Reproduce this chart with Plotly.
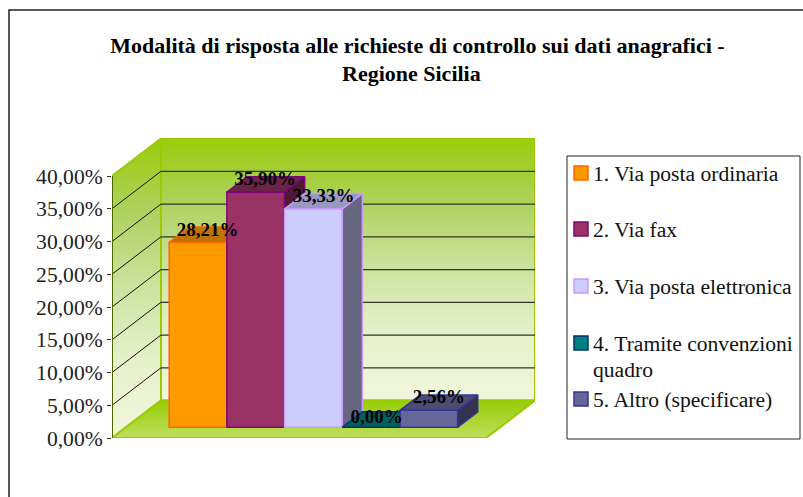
import plotly.graph_objects as go

# ---------- data ----------
categories = ["1. Via posta ordinaria", "2. Via fax", "3. Via posta elettronica",
              "4. Tramite convenzioni<br>quadro", "5. Altro (specificare)"]
values = [28.21, 35.90, 33.33, 0.00, 2.56]
value_labels = ["28,21%", "35,90%", "33,33%", "0,00%", "2,56%"]
tick_values = [0, 5, 10, 15, 20, 25, 30, 35, 40]
tick_labels = ["0,00%", "5,00%", "10,00%", "15,00%", "20,00%", "25,00%", "30,00%", "35,00%", "40,00%"]

# ---------- styles ----------
fill_colors = ["#FF9900", "#993366", "#CCCCFF", "#008080", "#666699"]
edge_colors = ["#FF6600", "#800080", "#CC99FF", "#003366", "#333399"]
top_colors = ["#C07300", "#6B2348", "#9999BF", "#006060", "#4D4D73"]
side_colors = ["#804D00", "#4D1A33", "#666680", "#004040", "#333350"]
label_nudge_x = [0.02, 0.02, 0.03, -0.05, 0.03]     # label offsets, in bar widths
label_nudge_y = [0.55, 0.55, 0.55, 0.25, 0.75]      # label offsets, in axis units
FONT = "Liberation Serif"

# ---------- projection of the fake 3D box (axis units) ----------
DEPTH_X, DEPTH_Y = 49 / 57.7, 5.72      # back wall offset from the front plane
FLOOR_W = 374 / 57.7                    # floor width, in bar widths
GAP = 43 / 57.7                         # space before the first bar
D0, D1 = 0.29, 0.70                     # bar depth range as a fraction of box depth
TOP = 40
W, H = 803, 497
L, R, T, B = 112, 268, 138, 59


def px(x):
    return (x - L) / (W - L - R)


def py(y):
    return (H - B - y) / (H - T - B)


fig = go.Figure()


def poly(xs, ys, xa="x", ya="y", **kw):
    fig.add_trace(go.Scatter(x=xs + xs[:1], y=ys + ys[:1], mode="lines", fill="toself",
                             xaxis=xa, yaxis=ya, showlegend=False, hoverinfo="skip", **kw))


wall_scale = [[0, "#F0F6DC"], [0.25, "#E6F1CC"], [0.5, "#CDE3A0"], [0.75, "#AED260"], [1, "#9ACC0A"]]
border = dict(color="#99CC00", width=2)

# left wall
poly([0, DEPTH_X, DEPTH_X, 0], [0, DEPTH_Y, TOP + DEPTH_Y, TOP], line=border,
     fillgradient=dict(type="vertical", colorscale=wall_scale, start=0, stop=TOP + DEPTH_Y))
# back wall
poly([DEPTH_X, DEPTH_X + FLOOR_W, DEPTH_X + FLOOR_W, DEPTH_X],
     [DEPTH_Y, DEPTH_Y, TOP + DEPTH_Y, TOP + DEPTH_Y], line=border,
     fillgradient=dict(type="vertical", colorscale=wall_scale, start=DEPTH_Y, stop=TOP + DEPTH_Y))
# floor
poly([0, FLOOR_W, FLOOR_W + DEPTH_X, DEPTH_X], [0, 0, DEPTH_Y, DEPTH_Y], line=border,
     fillgradient=dict(type="vertical", colorscale=[[0, "#BEDF5C"], [1, "#98CC08"]],
                       start=0, stop=DEPTH_Y))

# gridlines
gx, gy = [], []
for v in tick_values[1:-1]:
    gx += [DEPTH_X, DEPTH_X + FLOOR_W, None]
    gy += [v + DEPTH_Y, v + DEPTH_Y, None]
fig.add_trace(go.Scatter(x=gx, y=gy, mode="lines", line=dict(color="#333322", width=1.2),
                         showlegend=False, hoverinfo="skip"))
dx, dy = [], []
for v in tick_values[1:-1]:
    dx += [0, DEPTH_X, None]
    dy += [v, v + DEPTH_Y, None]
fig.add_trace(go.Scatter(x=dx, y=dy, mode="lines", line=dict(color="#111111", width=1),
                         showlegend=False, hoverinfo="skip"))
# left axis line
fig.add_trace(go.Scatter(x=[0, 0], y=[0, TOP], mode="lines", line=dict(color="#4F6600", width=2),
                         showlegend=False, hoverinfo="skip"))

# bars: one overlay subplot each so that later bars hide earlier side faces
x_range = [0, FLOOR_W + DEPTH_X]
y_range = [0, (H - T - B) / 6.55]
axes = {}
for i, val in enumerate(values):
    n = i + 2
    xa, ya = f"x{n}", f"y{n}"
    axes[f"xaxis{n}"] = dict(overlaying="x", range=x_range, visible=False, fixedrange=True)
    axes[f"yaxis{n}"] = dict(overlaying="y", range=y_range, visible=False, fixedrange=True)
    x0 = GAP + i + D0 * DEPTH_X
    x1 = x0 + 1
    y0 = D0 * DEPTH_Y
    y1 = y0 + val
    ddx = (D1 - D0) * DEPTH_X
    ddy = (D1 - D0) * DEPTH_Y
    edge = dict(color=edge_colors[i], width=1.5)
    fig.add_trace(go.Bar(x=[x0 + 0.5], y=[val], base=[y0], width=[1], name=categories[i],
                         xaxis=xa, yaxis=ya, showlegend=False,
                         marker=dict(color=fill_colors[i], line=edge)))
    poly([x1, x1 + ddx, x1 + ddx, x1], [y0, y0 + ddy, y1 + ddy, y1], xa, ya,
         line=edge, fillcolor=side_colors[i])
    poly([x0, x1, x1 + ddx, x0 + ddx], [y1, y1, y1 + ddy, y1 + ddy], xa, ya,
         line=edge, fillcolor=top_colors[i])

# value labels on top of everything
last = len(values) + 1
fig.add_trace(go.Scatter(
    x=[GAP + i + 0.5 + (D0 + D1) / 2 * DEPTH_X + label_nudge_x[i] - 0.03 for i in range(len(values))],
    y=[v + (D0 + D1) / 2 * DEPTH_Y + label_nudge_y[i] for i, v in enumerate(values)],
    text=value_labels, mode="text", textposition="middle center",
    textfont=dict(family=FONT, size=19, color="black", weight="bold"),
    xaxis=f"x{last}", yaxis=f"y{last}", showlegend=False, hoverinfo="skip", cliponaxis=False))

# chart frame (runs off the right and bottom of the picture), legend box and legend entries
shapes = [
    dict(type="rect", xref="paper", yref="paper", x0=px(9), x1=px(830), y0=py(10), y1=py(530),
         line=dict(color="#222222", width=1.5), layer="below"),
    dict(type="rect", xref="paper", yref="paper", x0=px(567), x1=px(800), y0=py(156), y1=py(439),
         line=dict(color="#222222", width=1), fillcolor="white"),
]
legend_y = [174, 230, 287, 344, 400]
LEGEND_LINE = 25.5
annotations = [dict(text="Regione Sicilia", xref="paper", yref="paper", x=px(411.5), y=py(73.5),
                    showarrow=False, xanchor="center", yanchor="middle",
                    font=dict(family=FONT, size=22, color="black", weight="bold"))]
for name, fc, ec, ly in zip(categories, fill_colors, edge_colors, legend_y):
    shapes.append(dict(type="rect", xref="paper", yref="paper", x0=px(574), x1=px(588),
                       y0=py(ly - 8), y1=py(ly + 6), fillcolor=fc, line=dict(color=ec, width=1.5)))
    for k, line_text in enumerate(name.split("<br>")):
        annotations.append(dict(text=line_text, xref="paper", yref="paper", x=px(590.5),
                                y=py(ly + k * LEGEND_LINE), showarrow=False, xanchor="left",
                                yanchor="middle", align="left",
                                font=dict(family=FONT, size=21.6, color="#111111")))

fig.update_layout(
    width=W, height=H, margin=dict(l=L, r=R, t=T, b=B, autoexpand=False),
    paper_bgcolor="white", plot_bgcolor="rgba(0,0,0,0)", showlegend=False,
    title=dict(text="Modalità di risposta alle richieste di controllo sui dati anagrafici -",
               x=417.5 / W, y=1 - 45.5 / H, xanchor="center", yanchor="middle", xref="container",
               yref="container", font=dict(family=FONT, size=22, color="black", weight="bold")),
    xaxis=dict(range=x_range, visible=False, fixedrange=True),
    yaxis=dict(range=y_range, tickvals=tick_values, ticktext=tick_labels, showgrid=False,
               zeroline=False, showline=False, ticks="outside", ticklen=4, tickcolor="#333300",
               tickfont=dict(family=FONT, size=21.6, color="#222222"), fixedrange=True),
    shapes=shapes, annotations=annotations, **axes,
)
fig.write_html("out.html", config=dict(displayModeBar=False),
               post_script="document.body.style.margin='0';document.documentElement.style.overflow='hidden';")
